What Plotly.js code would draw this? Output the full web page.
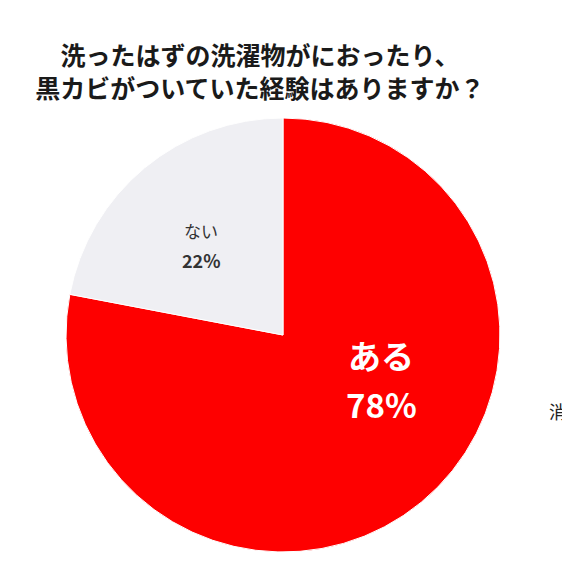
<!DOCTYPE html>
<html>
<head>
<meta charset="utf-8">
<script src="https://cdn.plot.ly/plotly-3.0.1.min.js"></script>
<style>
  html, body { margin: 0; padding: 0; background: #fff; overflow: hidden; }
  #chart { width: 562px; height: 562px; }
</style>
</head>
<body>
<div id="chart"></div>
<script>
// 黒カビ経験アンケートの円グラフ

var labels = ['ある', 'ない'];
var values = [78, 22];
var colors = ['#fe0000', '#efeff3'];

var jp = '"Noto Sans CJK JP", "Noto Sans", sans-serif';

var trace = {
    type: 'pie',
    labels: labels,
    values: values,
    sort: false,
    direction: 'clockwise',
    rotation: 0,
    textinfo: 'none',
    hoverinfo: 'label+percent',
    marker: {colors: colors, line: {color: '#ffffff', width: 1}},
    domain: {x: [0.1174, 0.8897], y: [0.0178, 0.79]},
    showlegend: false
};

// ラベルの位置 (px, 上から) : 名前の行と % の行
var labelPos = [
    {x: 381, yName: 355, yPct: 404, size: 33, pctSize: 33, color: '#ffffff', bold: true},
    {x: 201, yName: 231, yPct: 260, size: 17, pctSize: 18, color: '#333333', bold: false}
];

var total = values[0] + values[1];
var annotations = [];
for (var i = 0; i < labels.length; i++) {
    var p = labelPos[i];
    var pct = Math.round(values[i] / total * 100) + '%';
    annotations.push({
        x: p.x / 562, y: 1 - p.yName / 562, xref: 'paper', yref: 'paper',
        xanchor: 'center', yanchor: 'middle',
        text: p.bold ? '<b>' + labels[i] + '</b>' : labels[i],
        showarrow: false,
        font: {family: jp, size: p.size, color: p.color}
    });
    annotations.push({
        x: p.x / 562, y: 1 - p.yPct / 562, xref: 'paper', yref: 'paper',
        xanchor: 'center', yanchor: 'middle',
        text: '<b>' + pct + '</b>',
        showarrow: false,
        font: {family: jp, size: p.pctSize, color: p.color}
    });
}

// 右端で切れている文字
annotations.push({
    x: 547 / 562, y: 1 - 411 / 562, xref: 'paper', yref: 'paper',
    xanchor: 'left', yanchor: 'middle',
    text: '消臭', showarrow: false,
    font: {family: jp, size: 18, color: '#222222'}
});

var layout = {
    width: 562,
    height: 562,
    margin: {l: 0, r: 0, t: 0, b: 0},
    paper_bgcolor: '#ffffff',
    title: {
        text: '<b>洗ったはずの洗濯物がにおったり、<br>黒カビがついていた経験はありますか？</b>',
        font: {family: jp, size: 25, color: '#1a1a1a'},
        x: 260 / 562,
        xanchor: 'center',
        xref: 'paper',
        y: 1 - 65 / 562,
        yref: 'container',
        yanchor: 'middle'
    },
    annotations: annotations
};

Plotly.newPlot('chart', [trace], layout, {displayModeBar: false, staticPlot: true});
</script>
</body>
</html>
